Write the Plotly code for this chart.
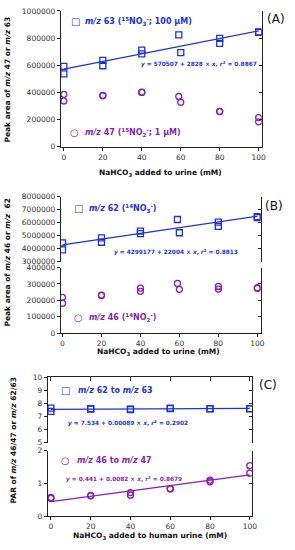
import plotly.graph_objects as go

W, H = 295, 550
BLUE = '#1e32d6'
PURPLE = '#8a1fae'
AX = '#222222'
TXT = '#333333'
FONT = 'DejaVu Sans'

# ---------------- data ----------------
# Panel A
a_x = [0, 0, 20, 20, 40, 40, 59, 60, 80, 80, 100, 100]
a_mz63 = [591000, 536000, 635000, 596000, 711000, 683000, 824000, 692000, 798000, 760000, 846000, 841000]
a_mz47 = [385000, 337000, 375000, 378000, 401000, 399000, 370000, 327000, 260000, 258000, 214000, 183000]
a_fit = [570507, 2828]          # intercept, slope

# Panel B
b_x = [0, 0, 20, 20, 40, 40, 59, 60, 80, 80, 100, 100]
b_mz62 = [4450000, 3910000, 4830000, 4500000, 5360000, 5160000, 6250000, 5230000, 6050000, 5720000, 6480000, 6400000]
b_mz46 = [218000, 182000, 230000, 232000, 275000, 255000, 303000, 267000, 285000, 269000, 277000, 273000]
b_fit = [4299177, 22004]

# Panel C
c_x = [0, 0, 20, 20, 40, 40, 60, 60, 80, 80, 100, 100]
c_r62_63 = [7.64, 7.38, 7.59, 7.57, 7.56, 7.53, 7.64, 7.60, 7.59, 7.58, 7.59, 7.58]
c_r46_47 = [0.57, 0.54, 0.63, 0.62, 0.72, 0.64, 0.84, 0.83, 1.10, 1.05, 1.54, 1.31]
c_fit_up = [7.534, 0.00089]
c_fit_lo = [0.441, 0.0082]

fit_x = [0, 100]


def px(x):
    return x / W


def py(y):
    return 1 - y / H


def line_y(coef):
    return [coef[0] + coef[1] * v for v in fit_x]


fig = go.Figure()


def pts(x, y, xa, ya, sym, color):
    fig.add_trace(go.Scatter(x=x, y=y, xaxis=xa, yaxis=ya, mode='markers',
                             marker=dict(symbol=sym, size=6, color=color,
                                         line=dict(color=color, width=1.3)),
                             showlegend=False, hoverinfo='skip'))


def fit(coef, xa, ya, color):
    fig.add_trace(go.Scatter(x=fit_x, y=line_y(coef), xaxis=xa, yaxis=ya, mode='lines',
                             line=dict(color=color, width=1.3), showlegend=False, hoverinfo='skip'))


def holder(xa, ya):
    # empty trace so that the mirror axes get drawn
    fig.add_trace(go.Scatter(x=[], y=[], xaxis=xa, yaxis=ya, mode='markers',
                             showlegend=False, hoverinfo='skip'))


# Panel A
fit(a_fit, 'x', 'y', BLUE)
pts(a_x, a_mz63, 'x', 'y', 'square-open', BLUE)
pts(a_x, a_mz47, 'x', 'y', 'circle-open', PURPLE)
# Panel B
fit(b_fit, 'x2', 'y2', BLUE)
pts(b_x, b_mz62, 'x2', 'y2', 'square-open', BLUE)
pts(b_x, b_mz46, 'x2', 'y3', 'circle-open', PURPLE)
# Panel C
fit(c_fit_up, 'x3', 'y4', BLUE)
pts(c_x, c_r62_63, 'x3', 'y4', 'square-open', BLUE)
fit(c_fit_lo, 'x3', 'y5', PURPLE)
pts(c_x, c_r46_47, 'x3', 'y5', 'circle-open', PURPLE)

holder('x', 'y6')
holder('x2', 'y7')
holder('x2', 'y8')
holder('x3', 'y9')
holder('x3', 'y10')
holder('x4', 'y4')

tickfont = dict(family=FONT, size=7.5, color=TXT)


def yax(d0, d1, rng, dtick, anchor, **kw):
    base = dict(domain=[py(d1), py(d0)], range=rng, dtick=dtick, anchor=anchor,
                showline=True, linecolor=AX, linewidth=1, ticks='outside', ticklen=3,
                tickwidth=1, tickcolor=AX, tickfont=tickfont, zeroline=False,
                showgrid=False, tickformat='d', fixedrange=True)
    base.update(kw)
    return base


def yright(over, anchor, rng, dtick):
    return dict(overlaying=over, side='right', anchor=anchor, range=rng, dtick=dtick,
                showline=True, linecolor=AX, linewidth=1, ticks='inside', ticklen=3,
                tickwidth=1, tickcolor=AX, showticklabels=False, zeroline=False,
                showgrid=False)


def xax(x0, x1, rng, anchor, **kw):
    base = dict(domain=[px(x0), px(x1)], range=rng, dtick=20, anchor=anchor,
                showline=True, linecolor=AX, linewidth=1, ticks='outside', ticklen=3,
                tickwidth=1, tickcolor=AX, tickfont=tickfont, zeroline=False,
                showgrid=False)
    base.update(kw)
    return base


fig.update_layout(
    width=W, height=H, margin=dict(l=0, r=0, t=0, b=0),
    paper_bgcolor='white', plot_bgcolor='white', showlegend=False,
    xaxis=xax(61, 266, [-1.6, 101.5], 'y'),
    xaxis2=xax(61, 265, [-0.9, 101.7], 'y3'),
    xaxis3=xax(47.7, 256, [-1.6, 101], 'y5'),
    xaxis4=dict(overlaying='x3', side='top', anchor='y4', range=[-1.6, 101], dtick=20,
                showline=True, linecolor=AX, linewidth=1, ticks='inside', ticklen=4,
                tickwidth=1, tickcolor=AX, showticklabels=False, zeroline=False, showgrid=False),
    yaxis=yax(7, 145, [0, 1000000], 200000, 'x'),
    yaxis2=yax(196, 262, [3000000, 8000000], 1000000, 'x2'),
    yaxis3=yax(268, 334.5, [0, 400000], 100000, 'x2'),
    yaxis4=yax(379.3, 446, [5, 10], 1, 'x3'),
    yaxis5=yax(454, 520.7, [0, 2], 1, 'x3'),
    yaxis6=yright('y', 'x', [0, 1000000], 200000),
    yaxis7=yright('y2', 'x2', [3000000, 8000000], 1000000),
    yaxis8=yright('y3', 'x2', [0, 400000], 100000),
    yaxis9=yright('y4', 'x3', [5, 10], 1),
    yaxis10=yright('y5', 'x3', [0, 2], 1),
)

ann = []


def text(x, y, s, color=TXT, size=8, bold=True, xanchor='left', angle=0):
    ann.append(dict(x=px(x), y=py(y), xref='paper', yref='paper', text=s, showarrow=False,
                    xanchor=xanchor, yanchor='middle', textangle=angle,
                    font=dict(family=FONT, size=size, color=color,
                              weight='bold' if bold else 'normal')))


MZ = '<i>m/z</i>'
# Panel A
text(76, 18, '□', BLUE, 10, False, 'center')
text(84, 18, MZ + ' 63 (<sup>15</sup>NO<sub>3</sub><sup>-</sup>; 100 µM)', BLUE)
text(263, 61, '<i>y</i> = 570507 + 2828 × <i>x</i>, <i>r</i><sup>2</sup> = 0.8867', BLUE, 5.8, True, 'right')
text(75, 131, '○', PURPLE, 10, False, 'center')
text(84, 131, MZ + ' 47 (<sup>15</sup>NO<sub>2</sub><sup>-</sup>; 1 µM)', PURPLE)
text(281, 15, '(A)', '#111', 12, False, 'center')
text(7, 77, 'Peak area of ' + MZ + ' 47 or ' + MZ + ' 63', '#111', 7.5, True, 'center', -90)
text(163, 172, 'NaHCO<sub>3</sub> added to urine (mM)', '#111', 7.5, True, 'center')
# Panel B
text(79, 208, '□', BLUE, 10, False, 'center')
text(88, 208, MZ + ' 62 (<sup>14</sup>NO<sub>3</sub><sup>-</sup>)', BLUE)
text(179, 252, '<i>y</i> = 4299177 + 22004 × <i>x</i>, <i>r</i><sup>2</sup> = 0.8813', BLUE, 5.8, True, 'center')
text(79, 319, '○', PURPLE, 10, False, 'center')
text(88, 319, MZ + ' 46 (<sup>14</sup>NO<sub>2</sub><sup>-</sup>)', PURPLE)
text(279, 205, '(B)', '#111', 12, False, 'center')
text(7, 263, 'Peak area of ' + MZ + ' 46 or ' + MZ + '  62', '#111', 7.5, True, 'center', -90)
text(161, 354, 'NaHCO<sub>3</sub> added to urine (mM)', '#111', 7.5, True, 'center')
# Panel C
text(66, 393, '□', BLUE, 10, False, 'center')
text(77, 393, MZ + ' 62 to ' + MZ + ' 63', BLUE)
text(129.5, 425.7, '<i>y</i> = 7.534 + 0.00089 × <i>x</i>, <i>r</i><sup>2</sup> = 0.2902', BLUE, 5.8, True, 'center')
text(66, 464, '○', PURPLE, 10, False, 'center')
text(76, 464, MZ + ' 46 to ' + MZ + ' 47', PURPLE)
text(125.5, 482.7, '<i>y</i> = 0.441 + 0.0082 × <i>x</i>, <i>r</i><sup>2</sup> = 0.8679', PURPLE, 5.8, True, 'center')
text(273, 387, '(C)', '#111', 12, False, 'center')
text(13, 444, 'PAR of ' + MZ + ' 46/47 or ' + MZ + ' 62/63', '#111', 7.5, True, 'center', -90)
text(152, 541, 'NaHCO<sub>3</sub> added to human urine (mM)', '#111', 7.5, True, 'center')

fig.update_layout(annotations=ann)
fig.write_html('out.html', config={'displayModeBar': False},
               post_script="document.body.style.margin='0';document.body.style.overflow='hidden';")
